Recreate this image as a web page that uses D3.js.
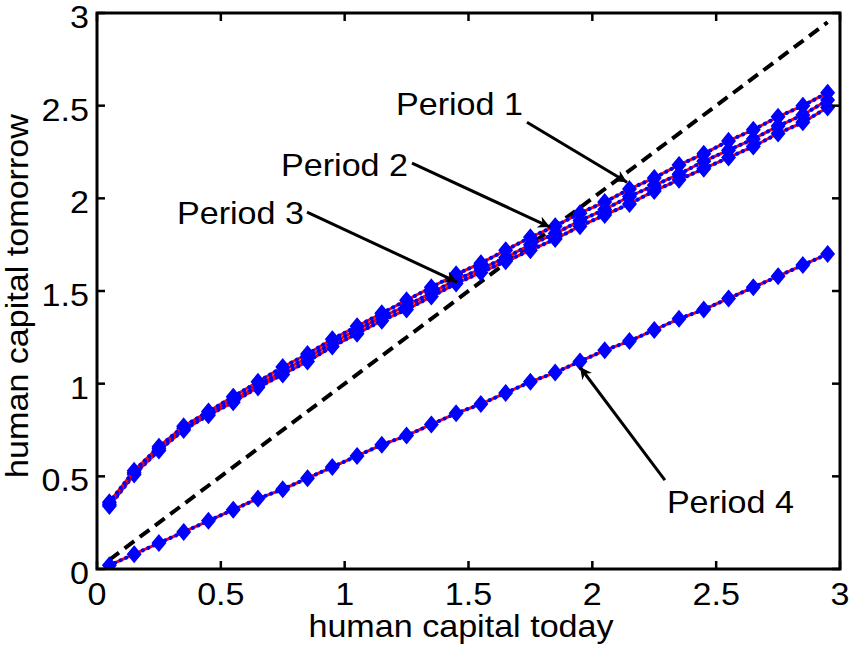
<!DOCTYPE html>
<html>
<head>
<meta charset="utf-8">
<script src="https://cdn.jsdelivr.net/npm/d3@7"></script>
<style>
  body { margin: 0; background: #fff; }
  text { font-family: "Liberation Sans", Arial, sans-serif; fill: #000; }
</style>
</head>
<body>
<svg width="850" height="645"></svg>
<script>
// данные
const xToday = [0.05, 0.15, 0.25, 0.35, 0.45, 0.55, 0.65, 0.75, 0.85, 0.95,
                1.05, 1.15, 1.25, 1.35, 1.45, 1.55, 1.65, 1.75, 1.85, 1.95,
                2.05, 2.15, 2.25, 2.35, 2.45, 2.55, 2.65, 2.75, 2.85, 2.95];

const period1 = [0.36, 0.53, 0.66, 0.77, 0.85, 0.93, 1.01, 1.09, 1.16, 1.24,
                 1.31, 1.38, 1.45, 1.52, 1.59, 1.65, 1.72, 1.79, 1.85, 1.92,
                 1.98, 2.05, 2.11, 2.18, 2.24, 2.31, 2.37, 2.44, 2.50, 2.57];
const period2 = [0.35, 0.52, 0.65, 0.76, 0.84, 0.91, 0.99, 1.07, 1.14, 1.22,
                 1.29, 1.36, 1.42, 1.49, 1.56, 1.62, 1.68, 1.75, 1.81, 1.88,
                 1.94, 2.01, 2.07, 2.13, 2.20, 2.26, 2.32, 2.39, 2.45, 2.53];
const period3 = [0.34, 0.51, 0.64, 0.75, 0.83, 0.90, 0.98, 1.05, 1.12, 1.20,
                 1.27, 1.34, 1.40, 1.47, 1.54, 1.60, 1.66, 1.72, 1.78, 1.85,
                 1.91, 1.97, 2.04, 2.10, 2.16, 2.22, 2.28, 2.35, 2.41, 2.49];
const period4 = [0.02, 0.08, 0.14, 0.20, 0.26, 0.32, 0.38, 0.43, 0.49, 0.55,
                 0.61, 0.67, 0.72, 0.78, 0.84, 0.89, 0.95, 1.01, 1.06, 1.12,
                 1.18, 1.23, 1.29, 1.35, 1.40, 1.46, 1.52, 1.58, 1.64, 1.70];

const diagonal = [0.05, 2.95];

const tickValues = [0, 0.5, 1, 1.5, 2, 2.5, 3];
const tickLabels = ["0", "0.5", "1", "1.5", "2", "2.5", "3"];

// подписи: текст (x, y) и стрелка от (x1, y1) к (x2, y2), в единицах данных
const labels = ["Period 1", "Period 2", "Period 3", "Period 4"];
const labelPos = [[1.207, 2.449], [0.743, 2.120], [0.323, 1.861], [2.301, 0.302]];
const arrowFrom = [[1.736, 2.411], [1.272, 2.190], [0.848, 1.926], [2.293, 0.480]];
const arrowTo = [[2.140, 2.087], [1.829, 1.845], [1.454, 1.548], [1.950, 1.090]];

const svg = d3.select("svg");
const mLeft = 97, mRight = 840, mTop = 13, mBottom = 569;
const fontSize = 31;
const stretch = 1.1;

const x = d3.scaleLinear().domain([0, 3]).range([mLeft, mRight]);
const y = d3.scaleLinear().domain([0, 3]).range([mBottom, mTop]);

const defs = svg.append("defs");
defs.append("clipPath").attr("id", "clip")
    .append("rect")
    .attr("x", mLeft).attr("y", mTop)
    .attr("width", mRight - mLeft).attr("height", mBottom - mTop);

defs.append("marker")
    .attr("id", "head")
    .attr("viewBox", "0 0 10 10")
    .attr("refX", 10).attr("refY", 5)
    .attr("markerWidth", 4).attr("markerHeight", 4)
    .attr("markerUnits", "strokeWidth")
    .attr("orient", "auto")
    .append("path")
    .attr("d", "M0,0 L10,5 L0,10 L3,5 Z")
    .attr("fill", "#000");

const plot = svg.append("g").attr("clip-path", "url(#clip)");

// диагональ 45°
plot.append("path")
    .attr("d", d3.line().x(d => x(d)).y(d => y(d))(diagonal))
    .attr("fill", "none")
    .attr("stroke", "#000")
    .attr("stroke-width", 4)
    .attr("stroke-dasharray", "12,7");

const line = d3.line()
    .x((d, i) => x(xToday[i]))
    .y(d => y(d));

const diamond = d3.symbol().type(d3.symbolDiamond).size(110);

[period4, period3, period2, period1].forEach(series => {
    plot.append("path")
        .attr("d", line(series))
        .attr("fill", "none")
        .attr("stroke", "#ff0000")
        .attr("stroke-width", 3);

    plot.append("path")
        .attr("d", line(series))
        .attr("fill", "none")
        .attr("stroke", "#0000ff")
        .attr("stroke-width", 4)
        .attr("stroke-linecap", "round")
        .attr("stroke-dasharray", "0.1,6");

    plot.selectAll(null)
        .data(series)
        .join("path")
        .attr("d", diamond)
        .attr("transform", (d, i) => `translate(${x(xToday[i])},${y(d)}) scale(1.15,0.8)`)
        .attr("fill", "#0000ff")
        .attr("stroke", "#0000ff")
        .attr("stroke-width", 1.5);
});

// рамка и тики
const axes = svg.append("g")
    .attr("fill", "none")
    .attr("stroke", "#000");

axes.append("rect")
    .attr("x", mLeft).attr("y", mTop)
    .attr("width", mRight - mLeft).attr("height", mBottom - mTop)
    .attr("stroke-width", 3);

tickValues.forEach(v => {
    axes.append("line").attr("x1", x(v)).attr("x2", x(v))
        .attr("y1", mBottom).attr("y2", mBottom - 8).attr("stroke-width", 2.5);
    axes.append("line").attr("x1", x(v)).attr("x2", x(v))
        .attr("y1", mTop).attr("y2", mTop + 8).attr("stroke-width", 2.5);
    axes.append("line").attr("y1", y(v)).attr("y2", y(v))
        .attr("x1", mLeft).attr("x2", mLeft + 8).attr("stroke-width", 2.5);
    axes.append("line").attr("y1", y(v)).attr("y2", y(v))
        .attr("x1", mRight).attr("x2", mRight - 8).attr("stroke-width", 2.5);
});

const textAt = (g, px, py, str, anchor) => g.append("text")
    .attr("transform", `translate(${px},${py}) scale(${stretch},1)`)
    .attr("text-anchor", anchor)
    .attr("font-size", fontSize)
    .text(str);

const tickText = svg.append("g");
tickValues.forEach((v, i) => {
    textAt(tickText, x(v), mBottom + 36, tickLabels[i], "middle");
    textAt(tickText, mLeft - 8, y(v) + 15, tickLabels[i], "end");
});

textAt(svg, 461, 637, "human capital today", "middle");

svg.append("text")
    .attr("transform", `translate(28,296) rotate(-90) scale(${stretch},1)`)
    .attr("text-anchor", "middle")
    .attr("font-size", fontSize)
    .text("human capital tomorrow");

// стрелки с подписями
const notes = svg.append("g");
labels.forEach((str, i) => {
    notes.append("line")
        .attr("x1", x(arrowFrom[i][0])).attr("y1", y(arrowFrom[i][1]))
        .attr("x2", x(arrowTo[i][0])).attr("y2", y(arrowTo[i][1]))
        .attr("stroke", "#000")
        .attr("stroke-width", 3)
        .attr("marker-end", "url(#head)");
    textAt(notes, x(labelPos[i][0]), y(labelPos[i][1]), str, "start");
});
</script>
</body>
</html>
